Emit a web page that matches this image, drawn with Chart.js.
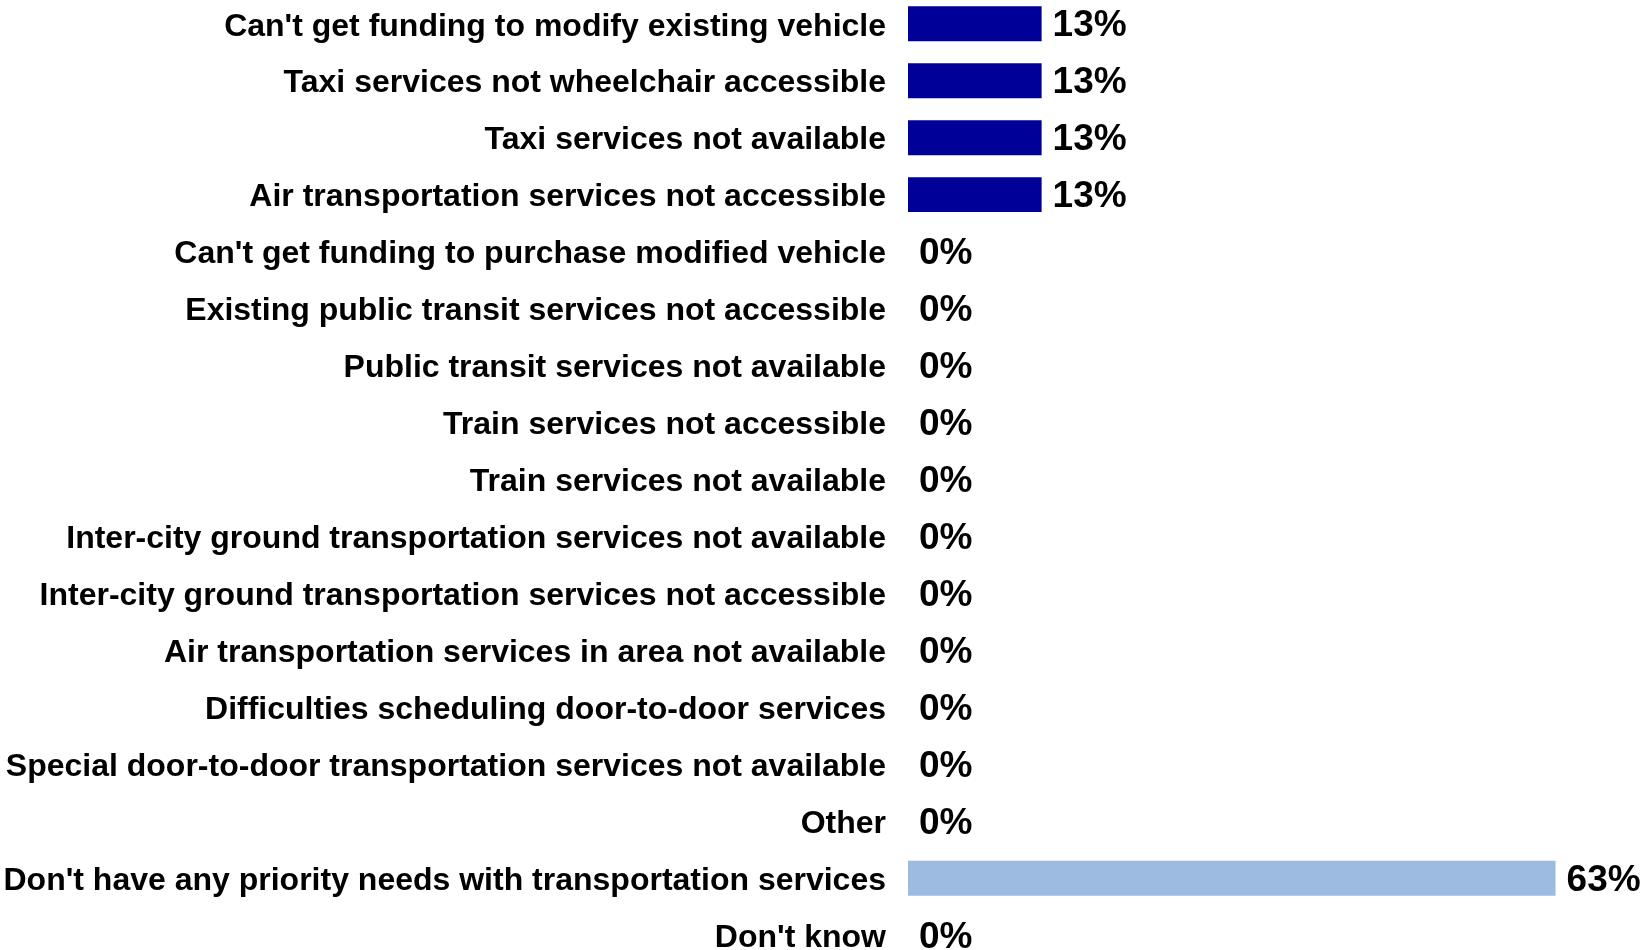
<!DOCTYPE html>
<html>
<head>
<meta charset="utf-8">
<script src="https://cdn.jsdelivr.net/npm/chart.js@4"></script>
<style>
html, body { margin: 0; padding: 0; background: #fff; overflow: hidden; }
/* the y-axis adds half a label height + tick padding above and below, so the
   canvas is taller than the window and pulled up to keep the bands aligned */
#wrap { position: absolute; left: 0; top: -46px; width: 1646px; height: 1051px; }
</style>
</head>
<body>
<div id="wrap"><canvas id="chart"></canvas></div>
<script>
let categories = [
	"Can't get funding to modify existing vehicle",
	"Taxi services not wheelchair accessible",
	"Taxi services not available",
	"Air transportation services not accessible",
	"Can't get funding to purchase modified vehicle",
	"Existing public transit services not accessible",
	"Public transit services not available",
	"Train services not accessible",
	"Train services not available",
	"Inter-city ground transportation services not available",
	"Inter-city ground transportation services not accessible",
	"Air transportation services in area not available",
	"Difficulties scheduling door-to-door services",
	"Special door-to-door transportation services not available",
	"Other",
	"Don't have any priority needs with transportation services",
	"Don't know"
]
let values = [13, 13, 13, 13, 0, 0, 0, 0, 0, 0, 0, 0, 0, 0, 0, 63, 0]
let barColors = values.map((v, i) => i == 15 ? "#9dbae0" : "#000099")

// draws the "13%" style labels at the end of each bar
let valueLabels = {
	id: 'valueLabels',
	afterDatasetsDraw(chart) {
		let ctx = chart.ctx
		let meta = chart.getDatasetMeta(0)
		ctx.save()
		ctx.font = "bold 37px 'Liberation Sans', Arial, sans-serif"
		ctx.fillStyle = "#000"
		ctx.textBaseline = "middle"
		meta.data.forEach((bar, i) => {
			ctx.fillText(values[i] + "%", bar.x + 11, bar.y + 2)
		})
		ctx.restore()
	}
}

new Chart(document.getElementById('chart'), {
	'type': 'bar',
	'data': {
		'labels': categories,
		'datasets': [{
			'data': values,
			'backgroundColor': barColors,
			'barPercentage': 0.614,
			'categoryPercentage': 1.0
		}]
	},
	'options': {
		'indexAxis': 'y',
		'responsive': true,
		'maintainAspectRatio': false,
		'animation': false,
		'layout': { 'padding': 0 },
		'plugins': {
			'legend': { 'display': false },
			'tooltip': { 'enabled': false }
		},
		'scales': {
			'x': {
				'display': false,
				'min': 0,
				'max': 71.8
			},
			'y': {
				'grid': { 'display': false, 'drawTicks': false },
				'border': { 'display': false },
				'ticks': {
					'color': "#000",
					'padding': 22,
					'labelOffset': 3,
					'autoSkip': false,
					'font': { 'family': "'Liberation Sans', Arial, sans-serif", 'size': 32, 'weight': 'bold' }
				},
				afterFit(scale) { scale.width = 908 }
			}
		}
	},
	'plugins': [valueLabels]
});
</script>
</body>
</html>
